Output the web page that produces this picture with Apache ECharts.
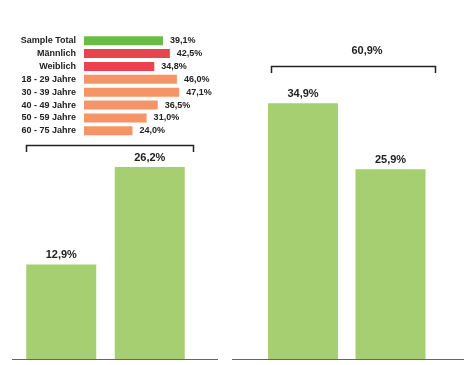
<!DOCTYPE html>
<html><head><meta charset="utf-8">
<script src="https://cdn.jsdelivr.net/npm/echarts@6/dist/echarts.min.js"></script>
<style>html,body{margin:0;padding:0;background:#fff}#c{width:464px;height:365px}</style>
</head><body><div id="c"></div>
<script>
const insetCategories = ['Sample Total','Männlich','Weiblich','18 - 29 Jahre','30 - 39 Jahre','40 - 49 Jahre','50 - 59 Jahre','60 - 75 Jahre'];
const insetValues = [39.1, 42.5, 34.8, 46.0, 47.1, 36.5, 31.0, 24.0];
const insetColors = ['#69bd43','#e8434f','#e8434f','#f69466','#f69466','#f69466','#f69466','#f69466'];
const leftCategories = ['A','B'];
const leftValues = [12.9, 26.2];
const rightCategories = ['C','D'];
const rightValues = [34.9, 25.9];
const rightTotal = 60.9;

const fmt = v => v.toFixed(1).replace('.', ',') + '%';
const FONT = '"Liberation Sans", Arial, sans-serif';
const barGreen = '#a5cf71';

const chart = echarts.init(document.getElementById('c'), null, {renderer:'canvas'});
chart.setOption({
  animation:false,
  backgroundColor:'#fff',
  grid:[
    {left:17, width:177, top:0, bottom:6},
    {left:259.25, width:175, top:0, bottom:6},
    {left:84, width:101, top:34.3, height:102.9}
  ],
  xAxis:[
    {gridIndex:0, type:'category', data:leftCategories, show:false},
    {gridIndex:1, type:'category', data:rightCategories, show:false},
    {gridIndex:2, type:'value', min:0, max:50, show:false}
  ],
  yAxis:[
    {gridIndex:0, type:'value', min:0, max:49, show:false},
    {gridIndex:1, type:'value', min:0, max:49, show:false},
    {gridIndex:2, type:'category', data:insetCategories, inverse:true,
     axisLine:{show:false}, axisTick:{show:false},
     axisLabel:{margin:8, fontFamily:FONT, fontWeight:'bold', fontSize:9, color:'#222'}}
  ],
  series:[
    {type:'bar', xAxisIndex:0, yAxisIndex:0, data:leftValues, barWidth:70,
     itemStyle:{color:barGreen},
     label:{show:true, position:'top', distance:4, formatter:p=>fmt(p.value), fontFamily:FONT, fontWeight:'bold', fontSize:11, color:'#222'}},
    {type:'bar', xAxisIndex:1, yAxisIndex:1, data:rightValues, barWidth:70,
     itemStyle:{color:barGreen},
     label:{show:true, position:'top', distance:4, formatter:p=>fmt(p.value), fontFamily:FONT, fontWeight:'bold', fontSize:11, color:'#222'}},
    {type:'bar', xAxisIndex:2, yAxisIndex:2, barWidth:9,
     data:insetValues.map((v,i)=>({value:v, itemStyle:{color:insetColors[i]}})),
     label:{show:true, position:'right', distance:7, formatter:p=>fmt(p.value), fontFamily:FONT, fontWeight:'bold', fontSize:9, color:'#222'}}
  ],
  graphic:[
    {type:'line', shape:{x1:12, y1:359.5, x2:218, y2:359.5}, style:{stroke:'#666', lineWidth:1}},
    {type:'line', shape:{x1:232, y1:359.5, x2:464, y2:359.5}, style:{stroke:'#666', lineWidth:1}},
    {type:'polyline', shape:{points:[[26.5,152],[26.5,145.5],[193.5,145.5],[193.5,152]]}, style:{stroke:'#222', lineWidth:1.5, fill:null}},
    {type:'polyline', shape:{points:[[271.5,73],[271.5,66.5],[435.5,66.5],[435.5,73]]}, style:{stroke:'#222', lineWidth:1.5, fill:null}},
    {type:'text', x:367, y:51, style:{text:fmt(rightTotal), font:'bold 11px '+FONT, fill:'#222', textAlign:'center', textVerticalAlign:'middle'}}
  ]
});
</script></body></html>
